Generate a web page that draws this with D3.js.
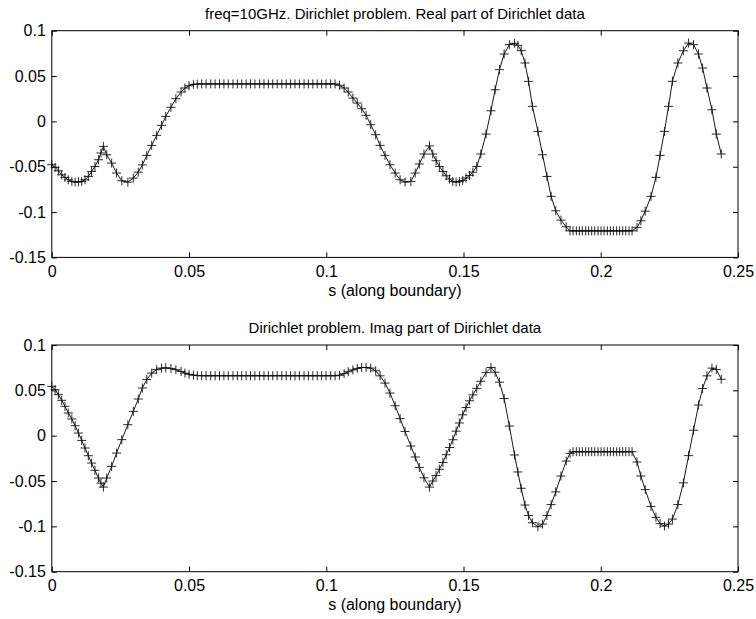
<!DOCTYPE html>
<html>
<head>
<meta charset="utf-8">
<script src="https://cdn.jsdelivr.net/npm/d3@7"></script>
<style>
  body { margin: 0; background: #fff; }
  text { font-family: Arial, "Liberation Sans", sans-serif; fill: #000; }
</style>
</head>
<body>
<div id="chart"></div>
<script>
// s positions of the boundary points (same for both panels)
var sVals = [
  0.0000, 0.0012, 0.0024, 0.0036, 0.0048, 0.0060, 0.0073, 0.0085, 0.0097, 0.0109,
  0.0121, 0.0133, 0.0145, 0.0157, 0.0170, 0.0179, 0.0188,
  0.0200, 0.0218, 0.0236, 0.0255, 0.0277, 0.0297, 0.0315, 0.0330, 0.0346, 0.0364,
  0.0382, 0.0400, 0.0415, 0.0434, 0.0452, 0.0471, 0.0485, 0.0500, 0.0516, 0.0530,
  0.0546, 0.0562, 0.0579, 0.0595, 0.0611, 0.0627, 0.0643, 0.0660, 0.0676, 0.0692,
  0.0708, 0.0724, 0.0740, 0.0757, 0.0773, 0.0789, 0.0805, 0.0821, 0.0838, 0.0854,
  0.0870, 0.0886, 0.0902, 0.0919, 0.0935, 0.0951, 0.0967, 0.0983, 0.0999, 0.1016, 0.1032,
  0.1048, 0.1065, 0.1080, 0.1097, 0.1113, 0.1129, 0.1145, 0.1162, 0.1180, 0.1196,
  0.1214, 0.1232, 0.1251, 0.1269, 0.1287, 0.1308, 0.1324, 0.1339, 0.1356, 0.1376,
  0.1388, 0.1400, 0.1412, 0.1425, 0.1437, 0.1449, 0.1461, 0.1473, 0.1485, 0.1497,
  0.1509, 0.1522, 0.1534, 0.1548, 0.1563, 0.1582, 0.1600,
  0.1615, 0.1631, 0.1648, 0.1667, 0.1686, 0.1698, 0.1710, 0.1724, 0.1737, 0.1751,
  0.1771, 0.1788, 0.1804, 0.1819, 0.1836, 0.1855, 0.1874,
  0.1888, 0.1899, 0.1911, 0.1922, 0.1933, 0.1945, 0.1956, 0.1967, 0.1978, 0.1990,
  0.2001, 0.2012, 0.2024, 0.2035, 0.2046, 0.2058, 0.2069, 0.2080, 0.2091, 0.2103, 0.2114,
  0.2132, 0.2146, 0.2162, 0.2183, 0.2201, 0.2216, 0.2232, 0.2247, 0.2261, 0.2281,
  0.2301, 0.2320, 0.2338, 0.2356, 0.2371, 0.2387, 0.2405, 0.2421, 0.2439
];

// real part of the Dirichlet data
var realVals = [
  -0.0478, -0.0507, -0.0545, -0.0589, -0.0618, -0.0644, -0.0662, -0.0669, -0.0669, -0.0662,
  -0.0644, -0.0607, -0.0552, -0.0497, -0.0423, -0.0349, -0.0276,
  -0.0368, -0.0460, -0.0570, -0.0655, -0.0670, -0.0625, -0.0560, -0.0480, -0.0375, -0.0265,
  -0.0154, -0.0044, 0.0055, 0.0155, 0.0250, 0.0324, 0.0368, 0.0393, 0.0409, 0.0411,
  0.0413, 0.0413, 0.0413, 0.0413, 0.0413, 0.0413, 0.0413, 0.0413, 0.0413, 0.0413,
  0.0413, 0.0413, 0.0413, 0.0413, 0.0413, 0.0413, 0.0413, 0.0413, 0.0413, 0.0413,
  0.0413, 0.0413, 0.0413, 0.0413, 0.0413, 0.0413, 0.0413, 0.0413, 0.0413, 0.0413, 0.0413,
  0.0398, 0.0368, 0.0324, 0.0257, 0.0202, 0.0140, 0.0067, -0.0037, -0.0147, -0.0265,
  -0.0375, -0.0478, -0.0570, -0.0644, -0.0669, -0.0662, -0.0570, -0.0470, -0.0360, -0.0270,
  -0.0360, -0.0434, -0.0497, -0.0552, -0.0600, -0.0636, -0.0662, -0.0669, -0.0665, -0.0651,
  -0.0625, -0.0596, -0.0560, -0.0497, -0.0360, -0.0140, 0.0117,
  0.0349, 0.0570, 0.0743, 0.0846, 0.0861, 0.0839, 0.0780, 0.0644, 0.0441, 0.0166,
  -0.0110, -0.0368, -0.0607, -0.0827, -0.0986, -0.1089, -0.1162,
  -0.1207, -0.1207, -0.1207, -0.1207, -0.1207, -0.1207, -0.1207, -0.1207, -0.1207, -0.1207,
  -0.1207, -0.1207, -0.1207, -0.1207, -0.1207, -0.1207, -0.1207, -0.1207, -0.1207, -0.1207, -0.1207,
  -0.1169, -0.1096, -0.0990, -0.0827, -0.0617, -0.0375, -0.0110, 0.0166, 0.0442, 0.0644,
  0.0779, 0.0864, 0.0846, 0.0743, 0.0588, 0.0368, 0.0128, -0.0140, -0.0360
];

// imaginary part of the Dirichlet data
var imagVals = [
  0.0544, 0.0507, 0.0452, 0.0390, 0.0324, 0.0250, 0.0184, 0.0110, 0.0029, -0.0052,
  -0.0136, -0.0221, -0.0302, -0.0382, -0.0467, -0.0523, -0.0567,
  -0.0467, -0.0339, -0.0192, -0.0044, 0.0121, 0.0268, 0.0404, 0.0526, 0.0620, 0.0690,
  0.0728, 0.0745, 0.0748, 0.0742, 0.0728, 0.0708, 0.0690, 0.0677, 0.0668, 0.0663,
  0.0661, 0.0661, 0.0661, 0.0661, 0.0661, 0.0661, 0.0661, 0.0661, 0.0661, 0.0661,
  0.0661, 0.0661, 0.0661, 0.0661, 0.0661, 0.0661, 0.0661, 0.0661, 0.0661, 0.0661,
  0.0661, 0.0661, 0.0661, 0.0661, 0.0661, 0.0661, 0.0661, 0.0661, 0.0661, 0.0661, 0.0661,
  0.0666, 0.0684, 0.0705, 0.0725, 0.0742, 0.0752, 0.0752, 0.0745, 0.0715, 0.0660,
  0.0580, 0.0470, 0.0330, 0.0188, 0.0047, -0.0114, -0.0235, -0.0350, -0.0465, -0.0567,
  -0.0500, -0.0440, -0.0370, -0.0295, -0.0210, -0.0130, -0.0045, 0.0050, 0.0140, 0.0230,
  0.0310, 0.0385, 0.0450, 0.0522, 0.0600, 0.0695, 0.0752,
  0.0700, 0.0590, 0.0410, 0.0106, -0.0213, -0.0400, -0.0580, -0.0765, -0.0880, -0.0960,
  -0.1004, -0.0975, -0.0880, -0.0760, -0.0620, -0.0445, -0.0280,
  -0.0195, -0.0177, -0.0177, -0.0177, -0.0177, -0.0177, -0.0177, -0.0177, -0.0177, -0.0177,
  -0.0177, -0.0177, -0.0177, -0.0177, -0.0177, -0.0177, -0.0177, -0.0177, -0.0177, -0.0177, -0.0177,
  -0.0290, -0.0445, -0.0595, -0.0780, -0.0900, -0.0970, -0.0997, -0.0975, -0.0920, -0.0760,
  -0.0520, -0.0220, 0.0060, 0.0338, 0.0520, 0.0660, 0.0745, 0.0730, 0.0622
];

var xTicks = [0, 0.05, 0.1, 0.15, 0.2, 0.25];
var yTicks = [-0.15, -0.1, -0.05, 0, 0.05, 0.1];
var titles = [
  "freq=10GHz. Dirichlet problem. Real part of Dirichlet data",
  "Dirichlet problem. Imag part of Dirichlet data"
];
var xLabel = "s (along boundary)";

var svgWidth = 756;
var svgHeight = 619;

var plotLeft = 51.8;
var plotRight = 738;
var plotHeight = 226.7;
var panelTops = [30.7, 345];

var svg = d3.select("#chart")
  .append("svg")
  .attr("width", svgWidth)
  .attr("height", svgHeight);

var xScale = d3.scaleLinear()
  .domain([0, 0.25])
  .range([plotLeft, plotRight]);

function drawPanel(top, values, title) {
  var yScale = d3.scaleLinear()
    .domain([-0.15, 0.1])
    .range([top + plotHeight, top]);

  var g = svg.append("g");
  var pts = sVals.map((s, i) => [s, values[i]]);

  // box
  g.append("rect")
    .attr("x", plotLeft)
    .attr("y", top)
    .attr("width", plotRight - plotLeft)
    .attr("height", plotHeight)
    .attr("fill", "none")
    .attr("stroke", "#000")
    .attr("stroke-width", 1);

  // axes with inward ticks on all four sides
  var bottom = g.append("g")
    .attr("transform", `translate(0, ${top + plotHeight})`)
    .call(d3.axisBottom(xScale).tickValues(xTicks).tickSizeInner(-5).tickSizeOuter(0)
      .tickPadding(8).tickFormat(d => String(d)));
  var topAx = g.append("g")
    .attr("transform", `translate(0, ${top})`)
    .call(d3.axisTop(xScale).tickValues(xTicks).tickSizeInner(-5).tickSizeOuter(0)
      .tickFormat(""));
  var leftAx = g.append("g")
    .attr("transform", `translate(${plotLeft}, 0)`)
    .call(d3.axisLeft(yScale).tickValues(yTicks).tickSizeInner(-5).tickSizeOuter(0)
      .tickPadding(6).tickFormat(d => String(d)));
  var rightAx = g.append("g")
    .attr("transform", `translate(${plotRight}, 0)`)
    .call(d3.axisRight(yScale).tickValues(yTicks).tickSizeInner(-5).tickSizeOuter(0)
      .tickFormat(""));

  [bottom, topAx, leftAx, rightAx].forEach(function (ax) {
    ax.select(".domain").remove();
    ax.selectAll("line").attr("stroke", "#000");
    ax.selectAll("text")
      .attr("font-family", "Arial, 'Liberation Sans', sans-serif")
      .attr("font-size", 16)
      .attr("fill", "#000");
  });

  // line
  g.append("path")
    .datum(pts)
    .attr("fill", "none")
    .attr("stroke", "#000")
    .attr("stroke-width", 0.9)
    .attr("d", d3.line().x(d => xScale(d[0])).y(d => yScale(d[1])));

  // + markers
  var m = 4.5;
  g.append("g")
    .selectAll("path")
    .data(pts)
    .enter()
    .append("path")
    .attr("fill", "none")
    .attr("stroke", "#111")
    .attr("stroke-width", 0.9)
    .attr("d", function (d) {
      var x = xScale(d[0]), y = yScale(d[1]);
      return `M${x - m},${y}H${x + m}M${x},${y - m}V${y + m}`;
    });

  // title and x label
  g.append("text")
    .attr("x", (plotLeft + plotRight) / 2)
    .attr("y", top - 11.7)
    .attr("text-anchor", "middle")
    .attr("font-size", 15)
    .text(title);

  g.append("text")
    .attr("x", (plotLeft + plotRight) / 2)
    .attr("y", top + plotHeight + 38.7)
    .attr("text-anchor", "middle")
    .attr("font-size", 16)
    .text(xLabel);
}

drawPanel(panelTops[0], realVals, titles[0]);
drawPanel(panelTops[1], imagVals, titles[1]);
</script>
</body>
</html>
